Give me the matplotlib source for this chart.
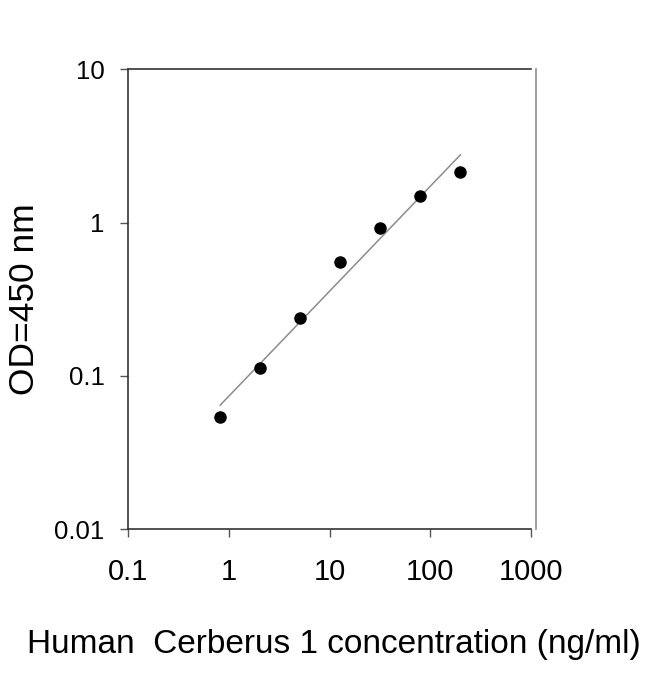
import numpy as np
import matplotlib
matplotlib.use('Agg')
import matplotlib.pyplot as plt

plt.rcParams['font.family'] = ['Liberation Sans', 'DejaVu Sans']

# standards (ng/ml) and measured OD
conc = [0.82, 2.05, 5.12, 12.8, 32, 80, 200]
od = [0.054, 0.113, 0.239, 0.55, 0.925, 1.50, 2.13]

x_ticks = [0.1, 1, 10, 100, 1000]
x_labels = ['0.1', '1', '10', '100', '1000']
y_ticks = [0.01, 0.1, 1, 10]
y_labels = ['0.01', '0.1', '1', '10']

# log-log linear fit
slope, icpt = np.polyfit(np.log10(conc), np.log10(od), 1)
fit_x = np.array([conc[0], conc[-1]])
fit_y = 10 ** (icpt + slope * np.log10(fit_x))

fig = plt.figure(figsize=(6.5, 6.74), dpi=100)
ax = fig.add_axes([0.1974, 0.2151, 0.6191, 0.6821])

ax.plot(fit_x, fit_y, color='#8c8c8c', lw=1.1, zorder=2)
ax.plot(conc, od, 'o', color='black', ms=8, zorder=3)

ax.set_xscale('log')
ax.set_yscale('log')
ax.set_xlim(0.1, 1000)
ax.set_ylim(0.01, 10)
ax.set_xticks(x_ticks)
ax.set_xticklabels(x_labels)
ax.set_yticks(y_ticks)
ax.set_yticklabels(y_labels)
ax.minorticks_off()

ax.tick_params(axis='x', labelsize=21, length=6, width=1, color='#555555', pad=15)
ax.tick_params(axis='y', labelsize=18.5, length=6, width=1, color='#555555', pad=11)

for s in ['left', 'bottom', 'top']:
    ax.spines[s].set_color('#333333')
    ax.spines[s].set_linewidth(1.2)
ax.spines['right'].set_visible(False)
# the grey right border sits a little outside the plot
ax.plot([1.012, 1.012], [0, 1], transform=ax.transAxes, color='#8c8c8c',
        lw=1.2, clip_on=False)

ax.set_ylabel('OD=450 nm', fontsize=25.5, labelpad=10)
fig.text(334 / 650, 1 - 645 / 674, 'Human  Cerberus 1 concentration (ng/ml)',
         fontsize=24, ha='center', va='center')

fig.savefig('out.png', dpi=100)
